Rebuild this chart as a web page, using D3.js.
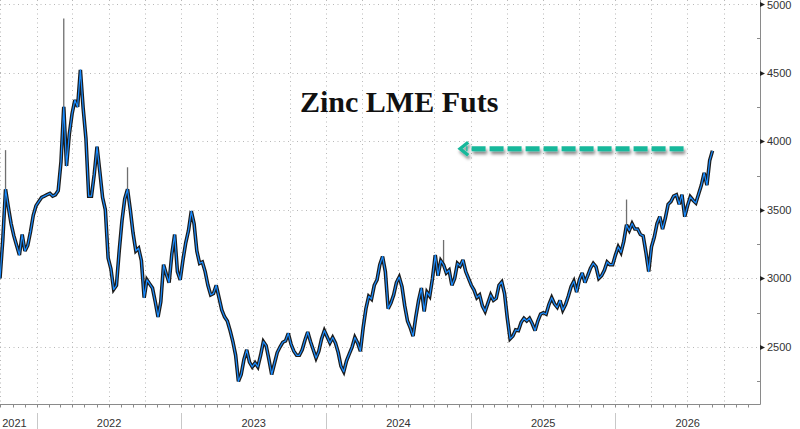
<!DOCTYPE html>
<html><head><meta charset="utf-8">
<script src="https://cdn.jsdelivr.net/npm/d3@7"></script>
<style>
html,body{margin:0;padding:0;background:#fff;}
svg{display:block;}
</style></head>
<body>
<svg id="c" width="800" height="429"></svg>
<script>
// ---- data (weekly closes, starting 2021-09-30) ----
const startDate = "2021-09-30";
const closes = [
3000,3280,3650,3520,3400,3310,3240,3170,3320,3200,
3240,3340,3460,3530,3560,3590,3600,3610,3620,3600,
3610,3640,3850,4250,3820,4050,4200,4300,4250,4520,
4240,4020,3600,3600,3760,3960,3780,3590,3500,3150,
3070,2920,2950,3200,3420,3580,3650,3500,3330,3200,
3220,3130,2860,2990,2960,2930,2830,2720,2830,3100,
3030,2970,3180,3320,3050,2990,3135,3260,3350,3490,
3400,3200,3110,3120,3050,2950,2880,2890,2950,2860,
2770,2720,2690,2620,2540,2440,2250,2300,2410,2480,
2390,2355,2385,2355,2440,2540,2510,2410,2300,2380,
2460,2500,2535,2545,2600,2520,2470,2440,2440,2480,
2550,2610,2540,2480,2420,2470,2560,2620,2575,2530,
2570,2530,2460,2360,2320,2400,2450,2500,2570,2530,
2470,2640,2780,2870,2850,2950,2990,3100,3160,3050,
2780,2820,2880,2970,3010,2940,2800,2690,2640,2580,
2720,2840,2930,2760,2900,2870,3000,3170,3020,3130,
3100,3040,3060,2950,3000,3110,3090,3135,3050,3000,
2950,2915,2860,2880,2800,2760,2820,2880,2840,2855,
2950,2975,2890,2710,2560,2580,2625,2620,2680,2710,
2690,2710,2670,2620,2690,2740,2750,2740,2810,2860,
2815,2790,2840,2770,2810,2870,2940,2980,2900,2990,
3040,2970,3020,3075,3110,3085,3000,3020,3060,3120,
3100,3100,3170,3230,3190,3270,3390,3350,3400,3360,
3360,3320,3310,3190,3050,3230,3300,3400,3450,3360,
3440,3540,3560,3600,3610,3540,3610,3450,3530,3595,
3570,3550,3615,3680,3770,3680,3860,3930
];
// intraweek highs that stick out above the close line (week index, high)
const spikeWeeks = [2, 23, 46, 160, 226];
const spikeHighs = [3935, 4895, 3810, 3280, 3575];

const yTicks = [2500, 3000, 3500, 4000, 4500, 5000];
const yMinor = [2250, 2750, 3250, 3750, 4250, 4750];
const yearLabels = ["2021", "2022", "2023", "2024", "2025", "2026"];
const title = "Zinc LME Futs";
// annotation arrow (level and date span)
const arrowLevel = 3945;
const arrowFrom = "2026-06-22";
const arrowTo = "2024-12-05";

// ---- chart ----
const svg = d3.select("#c");
const W = 760, H = 404;
const parse = d3.timeParse("%Y-%m-%d");
const t0 = parse(startDate);
const dates = closes.map((_, i) => d3.timeDay.offset(t0, 7 * i));
const data = closes.map((v, i) => ({ d: dates[i], v }));

const x = d3.scaleTime().domain([parse("2021-09-30"), parse("2027-01-01")]).range([0, W]);
const y = d3.scaleLinear().domain([2085, 5029]).range([H, 0]);

const defs = svg.append("defs");
const f = defs.append("filter").attr("id", "sh").attr("x", "-10%").attr("y", "-100%").attr("width", "120%").attr("height", "300%");
f.append("feDropShadow").attr("dx", 1.5).attr("dy", 3).attr("stdDeviation", 1.4).attr("flood-color", "#000").attr("flood-opacity", 0.45);

// grid
const grid = svg.append("g").attr("stroke", "#b8b8b8").attr("stroke-width", 1).attr("stroke-dasharray", "1,3.5");
grid.selectAll("line.h").data(yTicks).join("line")
  .attr("x1", 0).attr("x2", W).attr("y1", d => Math.round(y(d)) + 0.5).attr("y2", d => Math.round(y(d)) + 0.5);
const quarters = d3.timeMonth.every(3).range(parse("2021-09-30"), parse("2027-01-01"));
grid.selectAll("line.v").data(quarters).join("line")
  .attr("y1", 0).attr("y2", H).attr("x1", d => Math.round(x(d)) + 0.5).attr("x2", d => Math.round(x(d)) + 0.5);

// series
const line = d3.line().x(d => x(d.d)).y(d => y(d.v));
svg.append("g").selectAll("line").data(spikeWeeks).join("line")
  .attr("x1", (w) => x(dates[w])).attr("x2", (w) => x(dates[w]))
  .attr("y1", (w) => y(closes[w])).attr("y2", (w, i) => y(spikeHighs[i]))
  .attr("stroke", "#6f6f6f").attr("stroke-width", 1.3);
svg.append("path").datum(data).attr("d", line).attr("fill", "none")
  .attr("stroke", "#1c1c1c").attr("stroke-width", 3.6).attr("stroke-linejoin", "miter").attr("stroke-miterlimit", 3);
svg.append("path").datum(data).attr("d", line).attr("fill", "none")
  .attr("stroke", "#1a8cff").attr("stroke-width", 1.2).attr("stroke-linejoin", "round");

// axes
const ax = svg.append("g");
ax.append("line").attr("x1", 0).attr("x2", W + 0.5).attr("y1", H + 0.5).attr("y2", H + 0.5).attr("stroke", "#8a8a8a");
ax.append("line").attr("x1", W + 0.5).attr("x2", W + 0.5).attr("y1", 0).attr("y2", H + 0.5).attr("stroke", "#8a8a8a");
const months = d3.timeMonth.range(parse("2021-10-01"), parse("2027-01-01"));
ax.selectAll("line.mt").data(months).join("line")
  .attr("x1", d => Math.round(x(d)) + 0.5).attr("x2", d => Math.round(x(d)) + 0.5)
  .attr("y1", H).attr("y2", H + 3.5).attr("stroke", "#8a8a8a");
const yearStarts = d3.timeYear.range(parse("2022-01-01"), parse("2027-01-01"));
ax.selectAll("line.ys").data(yearStarts).join("line")
  .attr("x1", d => Math.round(x(d)) + 0.5).attr("x2", d => Math.round(x(d)) + 0.5)
  .attr("y1", 413).attr("y2", 429).attr("stroke", "#c8c8c8");
const bounds = [x.domain()[0]].concat(yearStarts).concat([x.domain()[1]]);
ax.selectAll("text.yr").data(yearLabels).join("text")
  .attr("x", (d, i) => (x(bounds[i]) + x(bounds[i + 1])) / 2 - (i === 0 ? 4 : 0))
  .attr("y", 427).attr("text-anchor", "middle")
  .attr("font-family", "Liberation Sans, Arial, sans-serif").attr("font-size", 11).attr("fill", "#333")
  .text(d => d);
ax.selectAll("line.mn").data(yMinor).join("line")
  .attr("x1", W - 3).attr("x2", W).attr("y1", d => Math.round(y(d)) + 0.5).attr("y2", d => Math.round(y(d)) + 0.5)
  .attr("stroke", "#8a8a8a");
ax.selectAll("path.tri").data(yTicks).join("path")
  .attr("d", d => { const yy = Math.round(y(d)) + 0.5; return `M${W},${yy - 2.5}L${W + 5},${yy}L${W},${yy + 2.5}Z`; })
  .attr("fill", "#222");
ax.selectAll("text.yl").data(yTicks).join("text")
  .attr("x", W + 7).attr("y", d => Math.max(y(d) + 4, 9))
  .attr("font-family", "Liberation Sans, Arial, sans-serif").attr("font-size", 11).attr("fill", "#333")
  .text(d => d);

// title
svg.append("text").attr("x", 300).attr("y", 112)
  .attr("font-family", "Liberation Serif, 'Times New Roman', serif").attr("font-weight", "bold")
  .attr("font-size", 30).attr("fill", "#111").text(title);

// arrow
const ag = svg.append("g").attr("filter", "url(#sh)");
const ay = y(arrowLevel);
const xa = x(parse(arrowTo)), xb = x(parse(arrowFrom));
ag.append("line").attr("x1", xb).attr("x2", xa + 6).attr("y1", ay).attr("y2", ay)
  .attr("stroke", "#17b89b").attr("stroke-width", 5).attr("stroke-dasharray", "14,4");
ag.append("path").attr("d", `M${xa + 8},${ay - 6.5}L${xa},${ay}L${xa + 8},${ay + 6.5}`)
  .attr("fill", "none").attr("stroke", "#17b89b").attr("stroke-width", 3.5);
</script>
</body></html>
